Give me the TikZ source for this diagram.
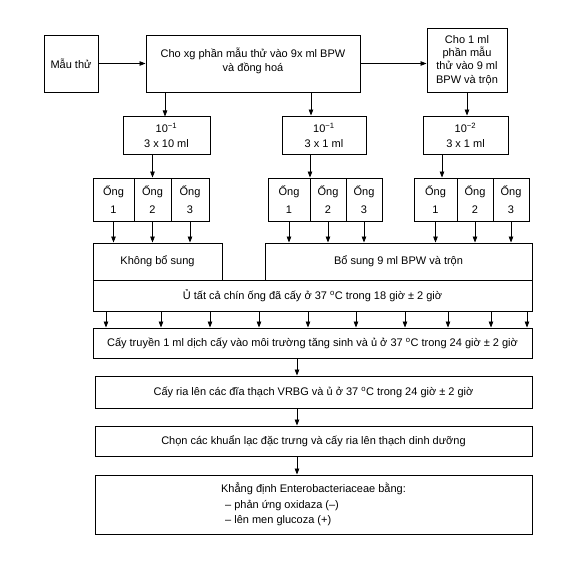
\documentclass[tikz,border=0pt]{standalone}
\usepackage{fontspec}
\setmainfont{Liberation Sans}
\usetikzlibrary{arrows.meta}
\begin{document}
\begin{tikzpicture}[x=1pt,y=-1pt,
  box/.style={draw,line width=0.9pt,inner sep=1pt,align=center,font=\fontsize{11}{13.3}\selectfont},
  tube/.style={box,minimum height=43pt,font=\fontsize{11}{18}\selectfont},
  arr/.style={line width=0.8pt,-{Triangle[length=6pt,width=4.5pt]}}]
\useasboundingbox (0,0) rectangle (570,564);
% top row
\node[box,minimum width=54pt,minimum height=57pt] (mau) at (71,63.5) {Mẫu thử};
\node[box,minimum width=214pt,minimum height=57pt,font=\fontsize{11}{14}\selectfont] (cho) at (253,63.5) {Cho xg phần mẫu thử vào 9x ml BPW\\và đồng hoá\\[-7pt]};
\node[box,minimum width=80pt,minimum height=64pt] (cho1) at (467,60) {Cho 1 ml\\phần mẫu\\thử vào 9 ml\\BPW và trộn};
% dilutions
\node[box,minimum width=87pt,minimum height=38pt,font=\fontsize{11}{15}\selectfont] (d1) at (166.5,135) {10\textsuperscript{−1}\\3 x 10 ml};
\node[box,minimum width=84pt,minimum height=38pt,font=\fontsize{11}{15}\selectfont] (d2) at (324,135) {10\textsuperscript{−1}\\3 x 1 ml};
\node[box,minimum width=85pt,minimum height=38pt,font=\fontsize{11}{15}\selectfont] (d3) at (465.5,135) {10\textsuperscript{−2}\\3 x 1 ml};
% tubes
\node[tube,minimum width=41pt] (t11) at (113.5,199.5) {Ống\\1};
\node[tube,minimum width=37pt] (t12) at (152.5,199.5) {Ống\\2};
\node[tube,minimum width=38pt] (t13) at (190,199.5) {Ống\\3};
\node[tube,minimum width=42pt] (t21) at (289,199.5) {Ống\\1};
\node[tube,minimum width=36pt] (t22) at (328,199.5) {Ống\\2};
\node[tube,minimum width=36pt] (t23) at (364,199.5) {Ống\\3};
\node[tube,minimum width=43pt] (t31) at (435.5,199.5) {Ống\\1};
\node[tube,minimum width=36pt] (t32) at (475,199.5) {Ống\\2};
\node[tube,minimum width=36pt] (t33) at (511,199.5) {Ống\\3};
% supplement
\node[box,minimum width=129pt,minimum height=37pt] (kbs) at (157.5,261.5) {Không bổ sung};
\node[box,minimum width=267pt,minimum height=37pt] (bs) at (398.5,261.5) {Bổ sung 9 ml BPW và trộn};
\node[box,minimum width=439pt,minimum height=31pt] (u) at (312.5,295.5) {Ủ tất cả chín ống đã cấy ở 37 \textsuperscript{o}C trong 18 giờ ± 2 giờ};
\node[box,minimum width=439pt,minimum height=30pt] (ct) at (312.5,343) {Cấy truyền 1 ml dịch cấy vào môi trường tăng sinh và ủ ở 37 \textsuperscript{o}C trong 24 giờ ± 2 giờ};
\node[box,minimum width=437pt,minimum height=32pt] (cr) at (313.5,392) {Cấy ria lên các đĩa thạch VRBG và ủ ở 37 \textsuperscript{o}C trong 24 giờ ± 2 giờ};
\node[box,minimum width=437pt,minimum height=30pt] (chon) at (313.5,441) {Chọn các khuẩn lạc đặc trưng và cấy ria lên thạch dinh dưỡng};
\node[box,minimum width=437pt,minimum height=59pt,align=left,font=\fontsize{11}{15.5}\selectfont] (kd) at (313.5,504.5) {Khẳng định Enterobacteriaceae bằng:\\\hspace*{4pt}– phản ứng oxidaza (–)\\\hspace*{4pt}– lên men glucoza (+)};
% helper coordinates
\coordinate (xa) at (311,0);
\coordinate (xb) at (310,0);
\coordinate (xc) at (442,0);
\coordinate (xd) at (297,0);
% arrows
\draw[arr] (mau.east) -- (cho.west);
\draw[arr] (cho.east) -- (cho.east -| cho1.west);
\draw[arr] (cho.south -| d1.north) ++(-1.5,0) -- ++(0,24);
\draw[arr] (cho.south -| xa) -- (d2.north -| xa);
\draw[arr] (cho1.south) -- (d3.north -| cho1.south);
\draw[arr] (d1.south -| t12.north) -- (t12.north);
\draw[arr] (d2.south -| xb) -- (t21.north -| xb);
\draw[arr] (d3.south -| xc) -- (t31.north -| xc);
\foreach \t in {t11,t12,t13} \draw[arr] (\t.south) -- (kbs.north -| \t.south);
\foreach \t in {t21,t22,t23,t31,t32,t33} \draw[arr] (\t.south) -- (bs.north -| \t.south);
\foreach \x [count=\i] in {106,161,210,259,308,356,405,448,491,527} {
  \coordinate (ux\i) at (\x,0);
  \draw[arr] (u.south -| ux\i) -- (ct.north -| ux\i);
}
\draw[arr] (ct.south -| xd) -- (cr.north -| xd);
\draw[arr] (cr.south -| xd) -- (chon.north -| xd);
\draw[arr] (chon.south -| xd) -- (kd.north -| xd);
\end{tikzpicture}
\end{document}
